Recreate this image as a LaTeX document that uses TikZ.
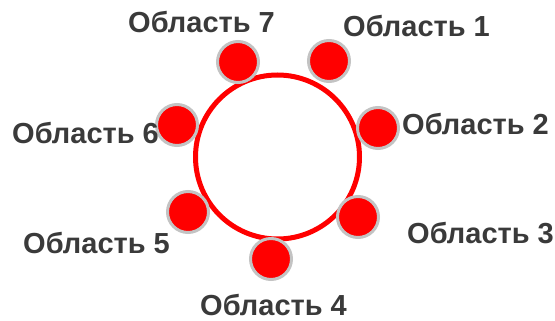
\documentclass[tikz,border=0pt]{standalone}
\usepackage{fontspec}
\setmainfont{Liberation Sans}
\definecolor{ringred}{HTML}{FF0000}
\definecolor{dotgray}{HTML}{C3C3C3}
\definecolor{txtgray}{HTML}{3A3A3A}
\tikzset{
  dotnode/.style={circle, fill=ringred, draw=dotgray, line width=3pt, minimum size=41pt, inner sep=0pt},
  lbl/.style={anchor=base west, inner sep=0pt, text=txtgray, font=\fontsize{29}{33}\selectfont\bfseries},
}
\begin{document}
\begin{tikzpicture}[x=1pt,y=-1pt]
\useasboundingbox (0,0) rectangle (555,321);
\node[circle, draw=ringred, line width=5pt, minimum size=164pt, inner sep=0pt] (ring) at (277.5,157) {};
\node[dotnode] (d1) at (329,61) {};
\node[dotnode] (d2) at (378,128) {};
\node[dotnode] (d3) at (358,217) {};
\node[dotnode] (d4) at (271,259) {};
\node[dotnode] (d5) at (188,212) {};
\node[dotnode] (d6) at (177,125) {};
\node[dotnode] (d7) at (238,62) {};
\node[lbl] (l1) at (343,37) {Область 1};
\node[lbl] (l2) at (402,135) {Область 2};
\node[lbl] (l3) at (407,243) {Область 3};
\node[lbl] (l4) at (200,315) {Область 4};
\node[lbl] (l5) at (23,253) {Область 5};
\node[lbl] (l6) at (12,143) {Область 6};
\node[lbl] (l7) at (128,33) {Область 7};
\end{tikzpicture}
\end{document}
